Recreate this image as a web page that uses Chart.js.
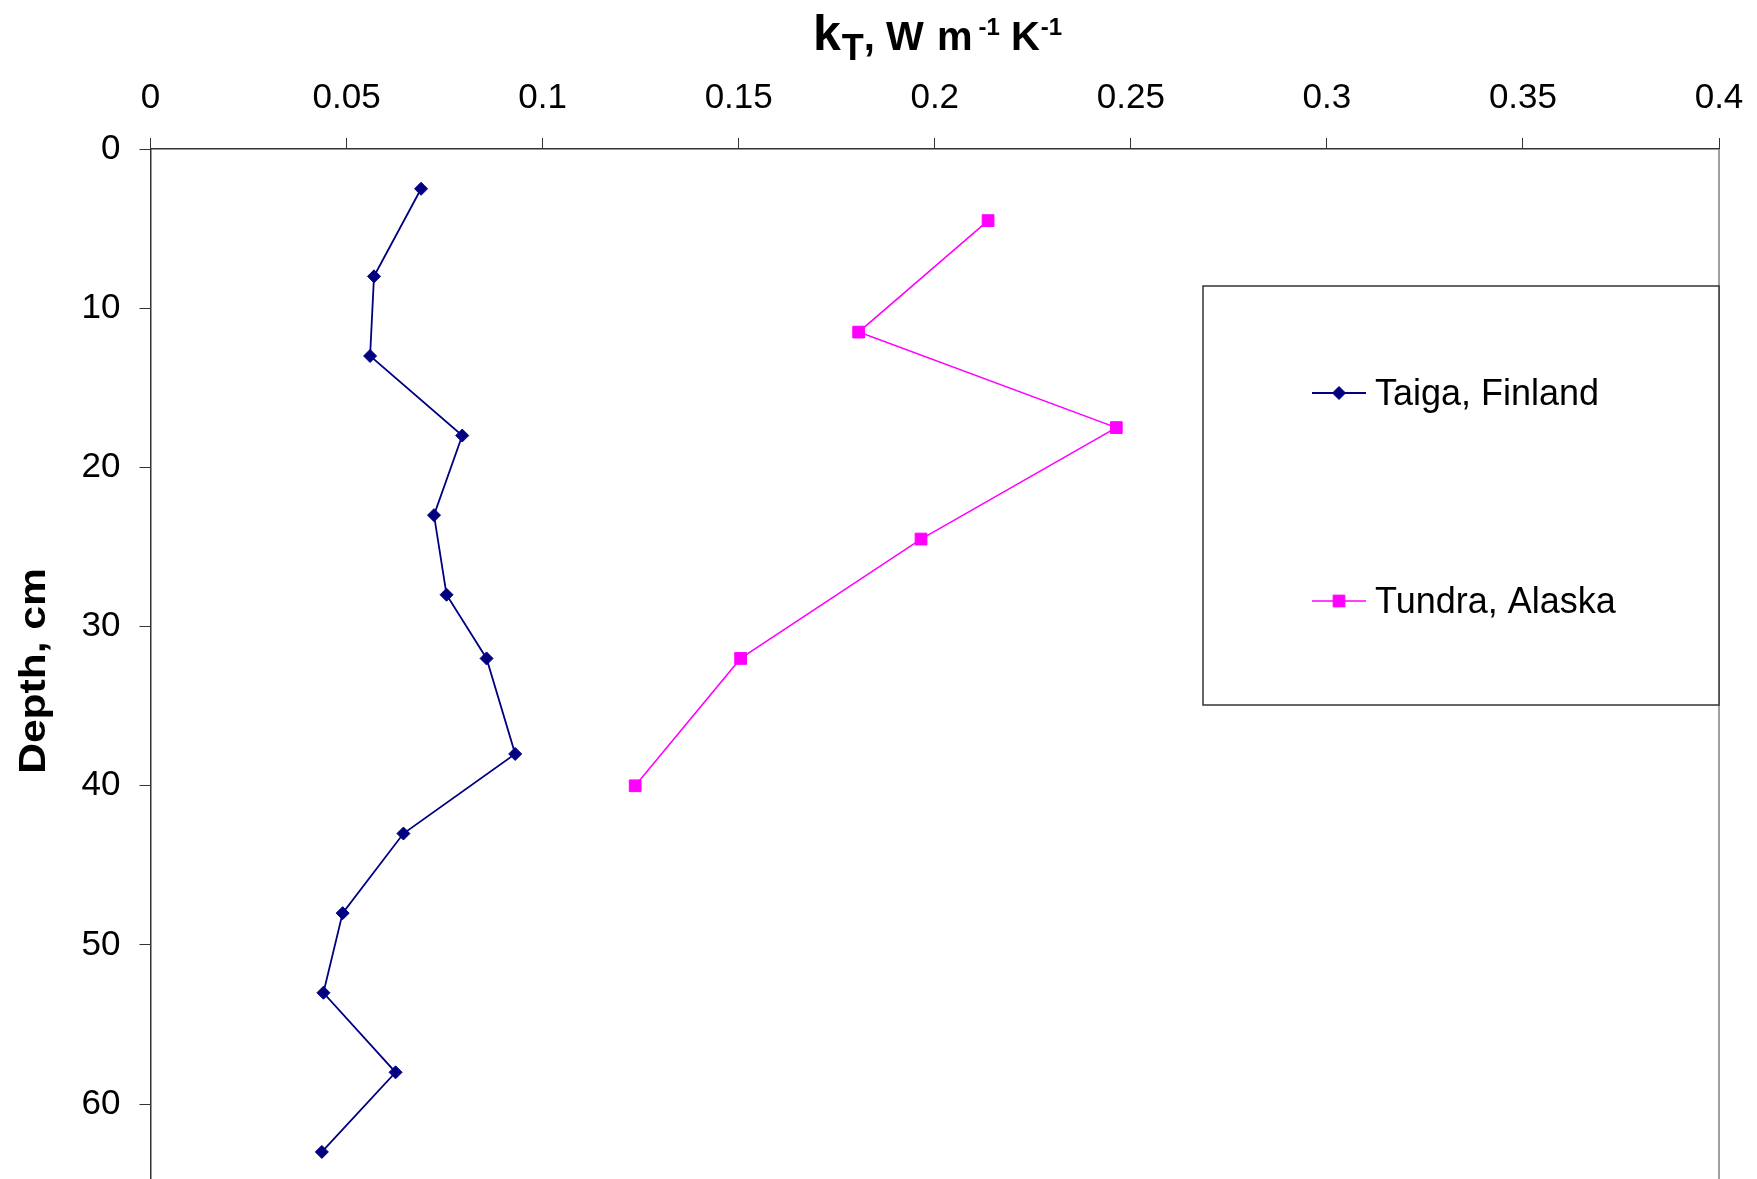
<!DOCTYPE html>
<html>
<head>
<meta charset="utf-8">
<script src="https://cdn.jsdelivr.net/npm/chart.js@4.4.1/dist/chart.umd.min.js"></script>
<style>
html,body{margin:0;padding:0;background:#fff;overflow:hidden}
#wrap{position:relative;width:1757px;height:1179px}
</style>
</head>
<body>
<div id="wrap"><canvas id="c" width="1757" height="1179"></canvas></div>
<script>
// ---- data ----
const seriesNames = ['Taiga, Finland', 'Tundra, Alaska'];
const taigaDepth = [2.5, 8, 13, 18, 23, 28, 32, 38, 43, 48, 53, 58, 63];
const taigaK = [0.069, 0.057, 0.056, 0.0795, 0.0723, 0.0755, 0.0857, 0.093, 0.0645, 0.049, 0.0441, 0.0625, 0.0437];
const tundraDepth = [4.5, 11.5, 17.5, 24.5, 32, 40];
const tundraK = [0.2136, 0.1806, 0.2463, 0.1965, 0.1505, 0.1236];
const xTicks = [0, 0.05, 0.1, 0.15, 0.2, 0.25, 0.3, 0.35, 0.4];
const yTicks = [0, 10, 20, 30, 40, 50, 60];
const xTitleParts = [
  {t: 'k', size: 50, dy: 0, gap: 1},
  {t: 'T', size: 36, dy: 10, gap: 0},
  {t: ', W', size: 40, dy: 0, gap: 2},
  {t: ' m', size: 40, dy: 0, gap: 6},
  {t: '-1', size: 24, dy: -15, gap: 0},
  {t: ' K', size: 40, dy: 0, gap: 1},
  {t: '-1', size: 24, dy: -15, gap: 0}
];
const yTitle = 'Depth, cm';

const FONT = '"Liberation Sans", Arial, sans-serif';

const toPts = (xs, ys) => xs.map((v, i) => ({x: v, y: ys[i]}));

const datasets = [
  {
    label: seriesNames[0],
    data: toPts(taigaK, taigaDepth),
    showLine: true,
    borderColor: '#000080',
    backgroundColor: '#000080',
    borderWidth: 1.8,
    pointStyle: 'rectRot',
    pointRadius: 6.5,
    pointBorderWidth: 1,
    pointBorderColor: '#000080',
    pointBackgroundColor: '#000080'
  },
  {
    label: seriesNames[1],
    data: toPts(tundraK, tundraDepth),
    showLine: true,
    borderColor: '#FF00FF',
    backgroundColor: '#FF00FF',
    borderWidth: 1.5,
    pointStyle: 'rect',
    pointRadius: 8.3,
    pointBorderWidth: 1,
    pointBorderColor: '#FF00FF',
    pointBackgroundColor: '#FF00FF'
  }
];

function drawMarker(ctx, ds, x, y) {
  if (Chart.helpers && Chart.helpers.drawPoint) {
    ctx.save();
    ctx.fillStyle = ds.pointBackgroundColor;
    ctx.strokeStyle = ds.pointBorderColor;
    ctx.lineWidth = ds.pointBorderWidth;
    Chart.helpers.drawPoint(ctx, {pointStyle: ds.pointStyle, radius: ds.pointRadius, rotation: 0, borderWidth: ds.pointBorderWidth}, x, y);
    ctx.restore();
  }
}

const decor = {
  id: 'decor',
  afterDraw(chart) {
    const ctx = chart.ctx;
    const ca = chart.chartArea;
    ctx.save();
    // right border of plot area
    ctx.strokeStyle = '#808080';
    ctx.lineWidth = 1.5;
    ctx.beginPath();
    ctx.moveTo(ca.right, ca.top);
    ctx.lineTo(ca.right, ca.bottom);
    ctx.stroke();

    // legend box
    const lx = 1203, ly = 286, lw = ca.right - 1203, lh = 419;
    ctx.fillStyle = '#fff';
    ctx.fillRect(lx, ly, lw, lh);
    ctx.strokeStyle = '#333';
    ctx.lineWidth = 1.5;
    ctx.strokeRect(lx, ly, lw, lh);
    const rows = [393, 601];
    chart.data.datasets.forEach((ds, i) => {
      const y = rows[i];
      ctx.strokeStyle = ds.borderColor;
      ctx.lineWidth = ds.borderWidth;
      ctx.beginPath();
      ctx.moveTo(1312, y);
      ctx.lineTo(1366, y);
      ctx.stroke();
      drawMarker(ctx, ds, 1339, y);
      ctx.fillStyle = '#000';
      ctx.font = '36px ' + FONT;
      ctx.textAlign = 'left';
      ctx.textBaseline = 'alphabetic';
      ctx.fillText(ds.label, 1375, y + 12);
    });

    // x-axis title with sub/superscripts
    ctx.fillStyle = '#000';
    ctx.textAlign = 'left';
    ctx.textBaseline = 'alphabetic';
    let x = 813;
    const base = 50;
    xTitleParts.forEach(p => {
      ctx.font = 'bold ' + p.size + 'px ' + FONT;
      ctx.fillText(p.t, x, base + p.dy);
      x += ctx.measureText(p.t).width + p.gap;
    });

    // y-axis title (rotated)
    ctx.translate(44.5, 671);
    ctx.rotate(-Math.PI / 2);
    ctx.scale(1.15, 1);
    ctx.font = 'bold 37px ' + FONT;
    ctx.textAlign = 'center';
    ctx.fillText(yTitle, 0, 0);
    ctx.restore();
  }
};

new Chart(document.getElementById('c'), {
  type: 'scatter',
  data: {datasets},
  plugins: [decor],
  options: {
    responsive: false,
    animation: false,
    devicePixelRatio: 1,
    layout: {autoPadding: false, padding: {left: 0, top: 0, right: 38, bottom: 0}},
    plugins: {legend: {display: false}, tooltip: {enabled: false}},
    scales: {
      x: {
        type: 'linear',
        position: 'top',
        min: 0,
        max: 0.4,
        afterBuildTicks: s => { s.ticks = xTicks.map(v => ({value: v})); },
        afterFit: s => { s.height = 149; s.paddingLeft = 0; s.paddingRight = 0; },
        ticks: {
          font: {family: FONT, size: 35},
          color: '#000',
          padding: 19,
          autoSkip: false,
          maxRotation: 0,
          callback: v => String(v)
        },
        grid: {drawOnChartArea: false, drawTicks: true, tickLength: 11, color: '#333', lineWidth: 1},
        border: {display: true, color: '#333', width: 1.5}
      },
      y: {
        type: 'linear',
        position: 'left',
        reverse: true,
        min: 0,
        max: 64.7,
        afterBuildTicks: s => { s.ticks = yTicks.map(v => ({value: v})); },
        afterFit: s => { s.width = 150.5; s.paddingTop = 0; s.paddingBottom = 0; },
        ticks: {
          font: {family: FONT, size: 35},
          color: '#000',
          padding: 19,
          autoSkip: false,
          callback: v => String(v)
        },
        grid: {drawOnChartArea: false, drawTicks: true, tickLength: 11, color: '#333', lineWidth: 1},
        border: {display: true, color: '#333', width: 1.5}
      }
    }
  }
});
</script>
</body>
</html>
